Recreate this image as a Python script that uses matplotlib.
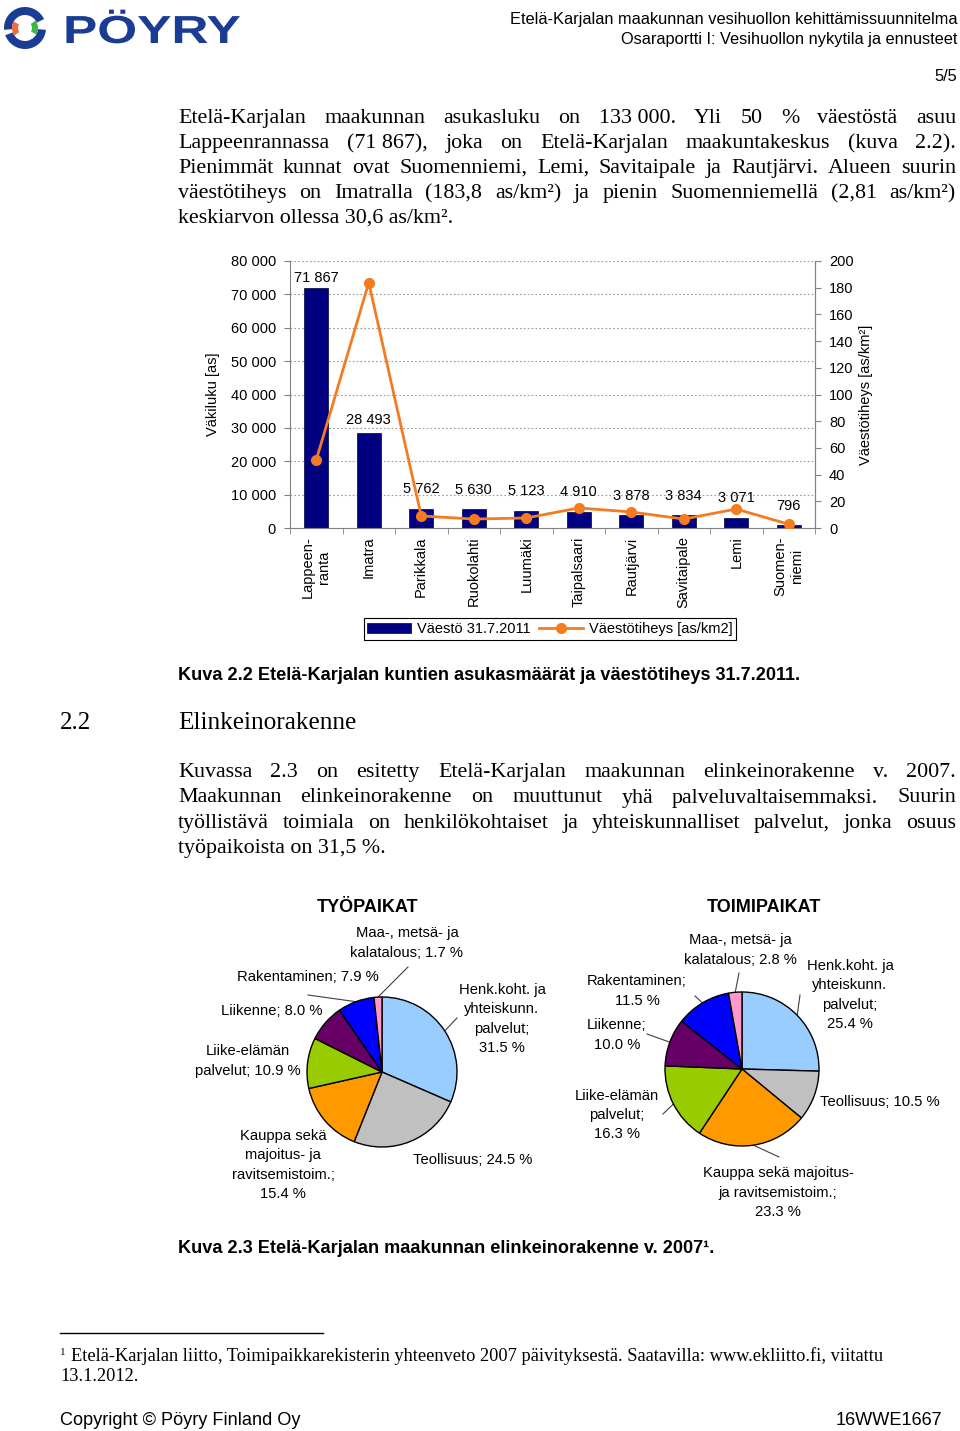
import numpy as np
import matplotlib
matplotlib.use('Agg')
import matplotlib.pyplot as plt
from matplotlib.patches import Wedge, PathPatch, Rectangle
from matplotlib.textpath import TextPath
from matplotlib.font_manager import FontProperties
from matplotlib.transforms import Affine2D
from matplotlib.lines import Line2D
from matplotlib.ticker import FuncFormatter, FixedLocator

W, H = 960, 1431
SANS = 'Liberation Sans'
SERIF = 'Liberation Serif'
plt.rcParams['font.family'] = SANS

# ---- data: kuva 2.2
kunnat = ['Lappeen-\nranta', 'Imatra', 'Parikkala', 'Ruokolahti', 'Luumäki',
          'Taipalsaari', 'Rautjärvi', 'Savitaipale', 'Lemi', 'Suomen-\nniemi']
vaesto = [71867, 28493, 5762, 5630, 5123, 4910, 3878, 3834, 3071, 796]
tiheys = [50.9, 183.8, 9.0, 6.7, 7.5, 15.0, 12.0, 6.7, 14.2, 2.81]

# ---- data: kuva 2.3
pie_colors = ['#99CCFF', '#C0C0C0', '#FF9900', '#99CC00', '#660066', '#0000FF', '#FF99CC']
tyo_values = [31.5, 24.5, 15.4, 10.9, 8.0, 7.9, 1.7]
tyo_labels = ['Henk.koht. ja\nyhteiskunn.\npalvelut;\n', 'Teollisuus; ',
              'Kauppa sekä\nmajoitus- ja\nravitsemistoim.;\n', 'Liike-elämän\npalvelut; ',
              'Liikenne; ', 'Rakentaminen; ', 'Maa-, metsä- ja\nkalatalous; ']
toimi_values = [25.4, 10.5, 23.3, 16.3, 10.0, 11.5, 2.8]
toimi_labels = ['Henk.koht. ja\nyhteiskunn.\npalvelut;\n', 'Teollisuus; ',
                'Kauppa sekä majoitus-\nja ravitsemistoim.;\n', 'Liike-elämän\npalvelut;\n',
                'Liikenne;\n', 'Rakentaminen;\n', 'Maa-, metsä- ja\nkalatalous; ']

para1 = ['Etelä-Karjalan maakunnan asukasluku on 133\u00a0000. Yli 50 % väestöstä asuu',
         'Lappeenrannassa (71\u00a0867), joka on Etelä-Karjalan maakuntakeskus (kuva 2.2).',
         'Pienimmät kunnat ovat Suomenniemi, Lemi, Savitaipale ja Rautjärvi. Alueen suurin',
         'väestötiheys on Imatralla (183,8 as/km²) ja pienin Suomenniemellä (2,81 as/km²)',
         'keskiarvon ollessa 30,6 as/km².']
para2 = ['Kuvassa 2.3 on esitetty Etelä-Karjalan maakunnan elinkeinorakenne v. 2007.',
         'Maakunnan elinkeinorakenne on muuttunut yhä palveluvaltaisemmaksi. Suurin',
         'työllistävä toimiala on henkilökohtaiset ja yhteiskunnalliset palvelut, jonka osuus',
         'työpaikoista on 31,5 %.']

fig = plt.figure(figsize=(W / 100, H / 100), dpi=100)
fig.patch.set_facecolor('white')
renderer = fig.canvas.get_renderer()

# page overlay in pixel coordinates (y down)
ax0 = fig.add_axes([0, 0, 1, 1])
ax0.set_xlim(0, W)
ax0.set_ylim(H, 0)
ax0.axis('off')


def px_box(x0, y0, w, h):
    return [x0 / W, 1 - (y0 + h) / H, w / W, h / H]


def justify(lines, y0, step, x0=178, x1=956, size=15.8):
    for i, line in enumerate(lines):
        y = y0 + i * step
        if i == len(lines) - 1:
            ax0.text(x0, y, line, family=SERIF, fontsize=size, va='baseline')
            continue
        words = line.split(' ')
        objs = [ax0.text(0, y, w, family=SERIF, fontsize=size, va='baseline') for w in words]
        widths = [o.get_window_extent(renderer).width for o in objs]
        gap = (x1 - x0 - sum(widths)) / (len(words) - 1)
        x = x0
        for o, w in zip(objs, widths):
            o.set_x(x)
            x += w + gap


# ---- header / logo
for a1, a2, r, wd, c in [(25, 185, 21, 8, '#1B3C95'), (200, 355, 21, 8, '#1B3C95'),
                         (150, 215, 13, 6, '#F26B3A'), (330, 395, 13, 6, '#3DB54A')]:
    ax0.add_patch(Wedge((25, 28), r, -a2, -a1, width=wd, color=c, lw=0))
tp = TextPath((0, 0), 'PÖYRY', size=1, prop=FontProperties(family=SANS, weight='bold'))
v = tp.vertices
sx = 177 / (v[:, 0].max() - v[:, 0].min())
sy = 28 / 0.716
tr = Affine2D().scale(sx, -sy).translate(63 - v[:, 0].min() * sx, 43)
ax0.add_patch(PathPatch(tr.transform_path(tp), color='#1B3C95', lw=0))

ax0.text(957, 24, 'Etelä-Karjalan maakunnan vesihuollon kehittämissuunnitelma',
         fontsize=11.8, ha='right', va='baseline')
ax0.text(957, 44, 'Osaraportti I: Vesihuollon nykytila ja ennusteet',
         fontsize=11.8, ha='right', va='baseline')
ax0.text(957, 81, '5/5', fontsize=11.8, ha='right', va='baseline')

justify(para1, 123, 25)

# ---- bar chart
axb = fig.add_axes(px_box(290, 261, 525, 267))
x = np.arange(len(kunnat))
axb.bar(x, vaesto, width=0.45, color='#000080', edgecolor='#000040', linewidth=0.5, zorder=2)
axb.set_xlim(-0.5, len(kunnat) - 0.5)
axb.set_ylim(0, 80000)
axb.yaxis.set_major_locator(FixedLocator(np.arange(0, 80001, 10000)))
axb.yaxis.set_major_formatter(FuncFormatter(lambda val, p: f'{int(val):,}'.replace(',', ' ')))
axb.grid(axis='y', linestyle=(0, (1.5, 2)), color='#9a9a9a', lw=0.8)
axb.set_axisbelow(True)
axb.set_xticks(x)
axb.set_xticklabels(kunnat, rotation=90, ha='center', va='top', multialignment='center', fontsize=10.5)
axb.set_xticks(np.arange(-0.5, len(kunnat), 1), minor=True)
axb.tick_params(axis='x', which='major', length=0, pad=6)
axb.tick_params(axis='x', which='minor', length=4, color='#808080')
axb.tick_params(axis='y', length=4, color='#808080', labelsize=10.5, pad=6)
for s in ['left', 'bottom', 'right']:
    axb.spines[s].set_color('#808080')
axb.spines['top'].set_visible(False)
axb.set_ylabel('Väkiluku [as]', fontsize=10.5)
axb.yaxis.set_label_coords(-0.133, 0.5)

lift = [2, 4.5, 9, 9, 9, 9, 9, 9, 9, 9]
for xi, val, lf in zip(x, vaesto, lift):
    axb.annotate(f'{val:,}'.replace(',', ' '), (xi, val), xytext=(0, lf), textcoords='offset points',
                 ha='center', va='bottom', fontsize=10.5)

orange = '#F47B20'
ax2 = axb.twinx()
ax2.plot(x, tiheys, color=orange, lw=2, marker='o', ms=7, zorder=3)
ax2.set_ylim(0, 200)
ax2.yaxis.set_major_locator(FixedLocator(np.arange(0, 201, 20)))
ax2.tick_params(axis='y', length=4, color='#808080', labelsize=10.5, pad=6)
for s in ['left', 'bottom', 'top']:
    ax2.spines[s].set_visible(False)
ax2.spines['right'].set_color('#808080')
ax2.set_ylabel('Väestötiheys [as/km²]', fontsize=10.5)
ax2.yaxis.set_label_coords(1.084, 0.5)

handles = [Rectangle((0, 0), 1, 1, facecolor='#000080', edgecolor='#000040', lw=0.5),
           Line2D([], [], color=orange, lw=2, marker='o', ms=7)]
leg = fig.legend(handles, ['Väestö 31.7.2011', 'Väestötiheys [as/km2]'], loc='center',
                 bbox_to_anchor=(550 / W, 1 - 629 / H), ncol=2, fancybox=False, edgecolor='black',
                 fontsize=10.5, handlelength=3.0, columnspacing=0.6, handletextpad=0.4,
                 borderpad=0.25, framealpha=1)
leg.get_frame().set_linewidth(0.8)

ax0.text(178, 680, 'Kuva 2.2 Etelä-Karjalan kuntien asukasmäärät ja väestötiheys 31.7.2011.',
         weight='bold', fontsize=13.1, va='baseline')
ax0.text(60, 729, '2.2', family=SERIF, fontsize=18, va='baseline')
ax0.text(178, 729, 'Elinkeinorakenne', family=SERIF, fontsize=18.2, va='baseline')

justify(para2, 777, 25.5)

# ---- pie charts
tyo_pos = [(502, 1019), (473, 1160), (283, 1165), (248, 1061), (272, 1011), (308, 977), (407, 943)]
tyo_lead = [(457, 1018), None, None, None, None, (308, 995), (408, 967)]
toimi_pos = [(850, 995), (880, 1102), (778, 1193), (617, 1115), (617, 1035), (637, 991), (740, 950)]
toimi_lead = [(800, 995), None, (779, 1157), (663, 1114), (647, 1034), (695, 996), (739, 973)]


def draw_pie(cx, cy, r, values, labels, pos, lead, title, tpos):
    ax = fig.add_axes(px_box(cx - 1.25 * r, cy - 1.25 * r, 2.5 * r, 2.5 * r))
    ax.pie(values, colors=pie_colors, startangle=90, counterclock=False, radius=1,
           wedgeprops=dict(edgecolor='black', linewidth=1))
    ax.set_xlim(-1.25, 1.25)
    ax.set_ylim(-1.25, 1.25)
    ax.set_aspect('equal')
    ax.axis('off')
    frac = np.cumsum(values) / np.sum(values)
    mids = frac - np.array(values) / np.sum(values) / 2
    for m, lab, val, p, ld in zip(mids, labels, values, pos, lead):
        ax0.text(p[0], p[1], f'{lab}{val:.1f} %', ha='center', va='center', multialignment='center',
                 fontsize=10.6, linespacing=1.5)
        if ld is not None:
            ang = np.deg2rad(90 - 360 * m)
            ex, ey = cx + r * np.cos(ang), cy - r * np.sin(ang)
            ax0.plot([ex, ld[0]], [ey, ld[1]], color='#404040', lw=0.8)
    ax0.text(tpos[0], tpos[1], title, ha='center', va='center', weight='bold', fontsize=13)


draw_pie(382, 1072, 75, tyo_values, tyo_labels, tyo_pos, tyo_lead, 'TYÖPAIKAT', (368, 908))
draw_pie(742, 1069, 77, toimi_values, toimi_labels, toimi_pos, toimi_lead, 'TOIMIPAIKAT', (764, 908))

ax0.text(178, 1253, 'Kuva 2.3 Etelä-Karjalan maakunnan elinkeinorakenne v. 2007¹.',
         weight='bold', fontsize=13.1, va='baseline')

# ---- footnote & footer
ax0.plot([60, 323], [1333, 1333], color='black', lw=1)
ax0.text(60, 1355, '1', family=SERIF, fontsize=8, va='baseline')
ax0.text(71, 1361, 'Etelä-Karjalan liitto, Toimipaikkarekisterin yhteenveto 2007 päivityksestä. '
         'Saatavilla: www.ekliitto.fi, viitattu', family=SERIF, fontsize=13.2, va='baseline')
ax0.text(60, 1381, '13.1.2012.', family=SERIF, fontsize=13.2, va='baseline')
ax0.text(60, 1425, 'Copyright © Pöyry Finland Oy', fontsize=13.1, va='baseline')
ax0.text(942, 1425, '16WWE1667', fontsize=13.1, ha='right', va='baseline')

fig.savefig('out.png', dpi=100)
